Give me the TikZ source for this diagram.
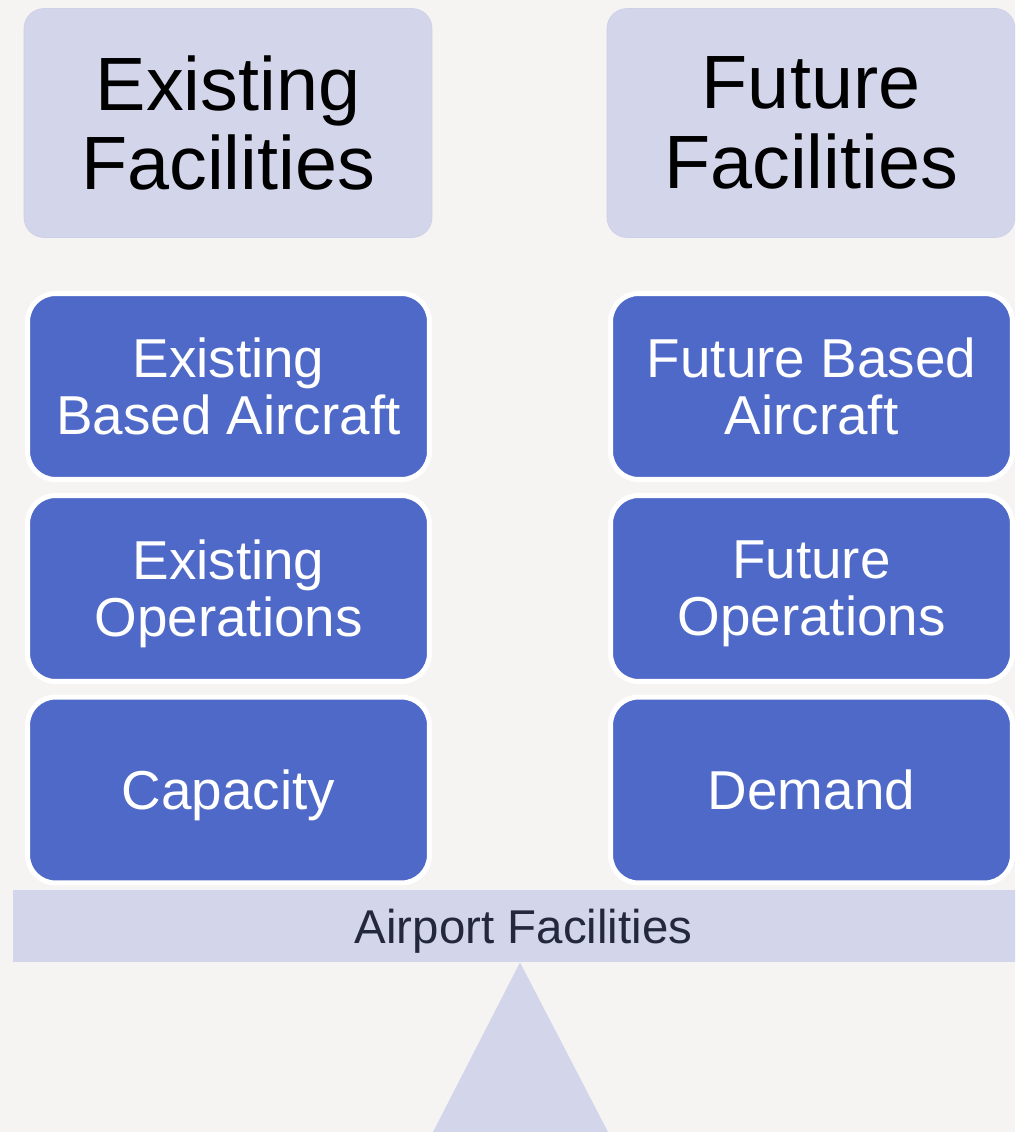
\documentclass[tikz,border=0pt]{standalone}
\usepackage{fontspec}
\setmainfont{Liberation Sans}
\usepackage{tikz}
\usetikzlibrary{calc}

\definecolor{paper}{HTML}{F5F4F2}
\definecolor{lavender}{HTML}{D3D5EA}
\definecolor{lavenderline}{HTML}{CDD0E7}
\definecolor{factorblue}{HTML}{4F69C8}
\definecolor{beamtext}{HTML}{24283F}

\begin{document}
\begin{tikzpicture}[x=0.02cm, y=-0.02cm]
      \tikzset{side head/.style={rectangle,
          rounded corners=0.4cm,
          fill=lavender,
          draw=lavenderline,
          line width=0.4pt,
          inner sep=0pt,
          minimum width=8.16cm,
          minimum height=4.58cm,
          align=center,
          font=\fontsize{43}{45.5}\selectfont},
        factor/.style={rectangle,
          rounded corners=0.56cm,
          fill=factorblue,
          draw=white,
          line width=0.1cm,
          inner sep=0pt,
          text depth=0pt,
          minimum width=8.04cm,
          minimum height=3.72cm,
          align=center,
          text=white,
          font=\fontsize{31.2}{32.4}\selectfont}
      }
      \clip (0,0) rectangle (1015,1132);
      \fill [paper] (0,0) rectangle (1015,1132);

      % the two pans
      \node [side head] (exist) at (228,123) {Existing\\Facilities};
      \node [side head] (future) at (811,123) {Future\\Facilities};

      % what sits on each pan
      \node [factor] (basedA) at (228.5,386.5) {Existing\\Based Aircraft};
      \node [factor] (opsA) at (228.5,588.5) {Existing\\Operations};
      \node [factor] (cap) at (228.5,790) {Capacity};

      \node [factor] (basedB) at (811.5,386.5) {Future Based\\Aircraft};
      \node [factor] (opsB) at (811.5,588.5) {Future\\Operations};
      \node [factor] (dem) at (811.5,790) {Demand};

      % beam and pivot
      \node [rectangle, fill=lavender, inner sep=0pt, text depth=0pt,
        minimum width=20.42cm, minimum height=1.44cm,
        text=beamtext, font=\fontsize{27}{28}\selectfont]
        (beam) at (523.5,926) {Airport Facilities};
      \coordinate (apex) at (beam.south -| 520,0);
      \fill [lavender] (apex) -- (608,1132) -- (433,1132) -- cycle;
    \end{tikzpicture}
\end{document}
